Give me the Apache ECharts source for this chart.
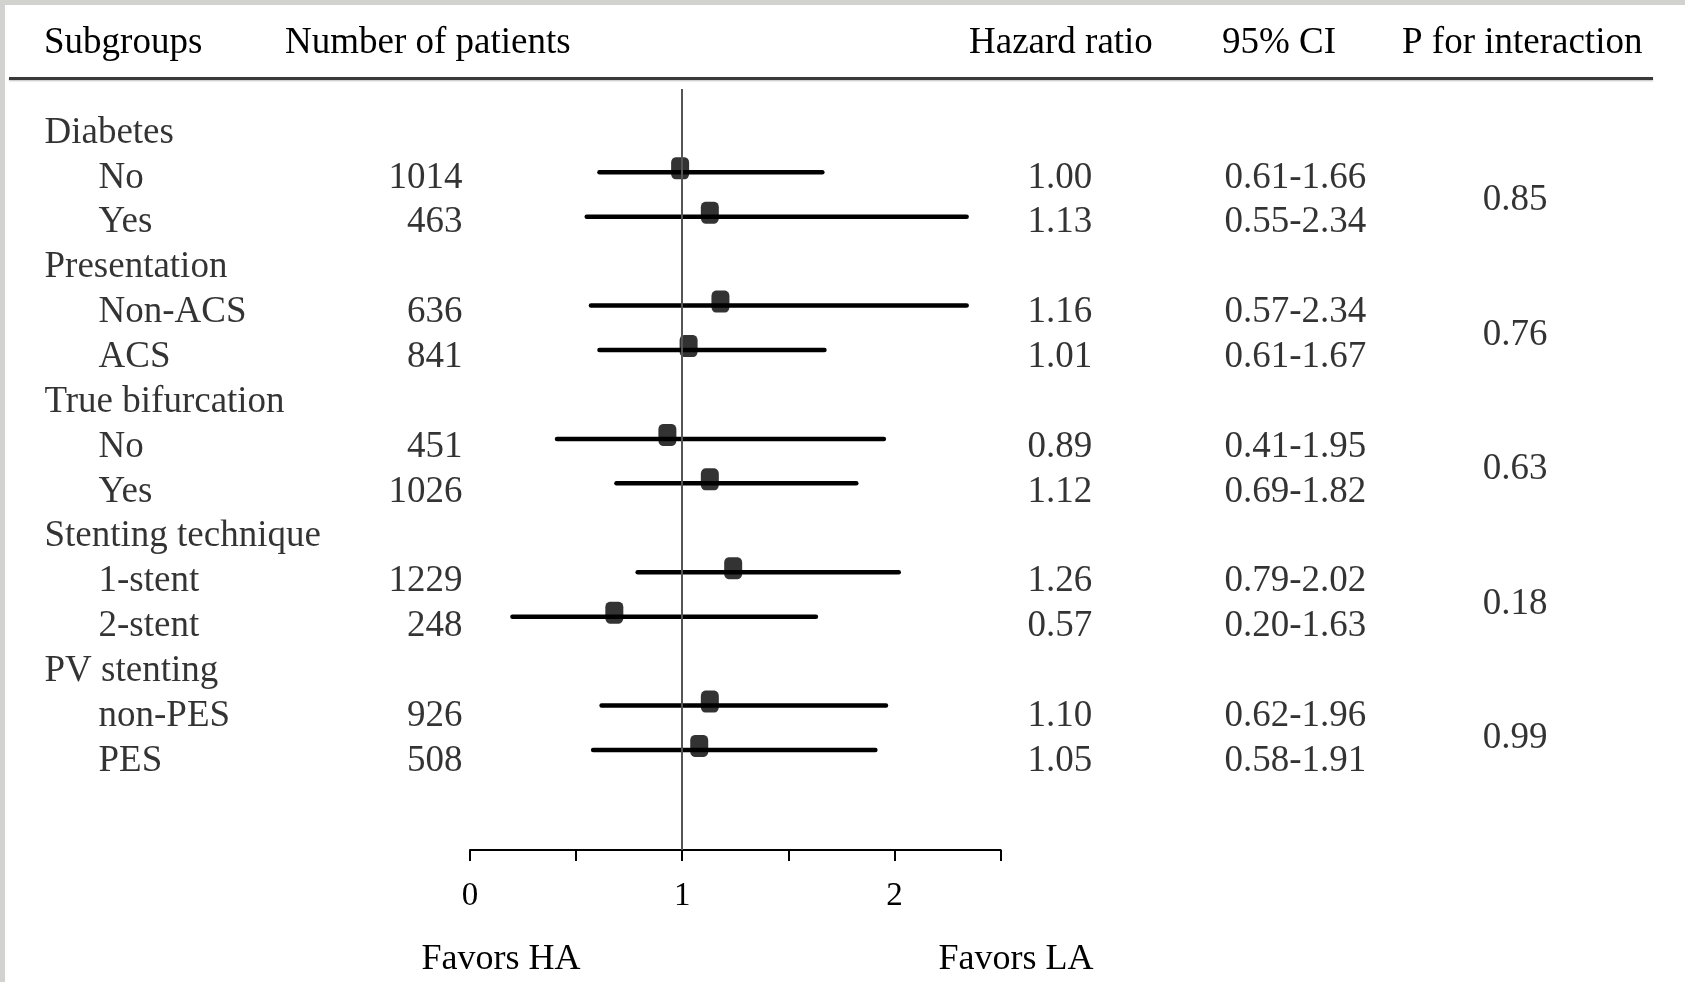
<!DOCTYPE html>
<html>
<head>
<meta charset="utf-8">
<script src="https://cdn.jsdelivr.net/npm/echarts@6/dist/echarts.min.js"></script>
<style>
html,body{margin:0;padding:0;background:#fff;}
#chart{width:1685px;height:982px;}
</style>
</head>
<body>
<div id="chart"></div>
<script>
// ---------------- data ----------------
const headers = ['Subgroups', 'Number of patients', 'Hazard ratio', '95% CI', 'P for interaction'];
const groupNames = ['Diabetes', 'Presentation', 'True bifurcation', 'Stenting technique', 'PV stenting'];
const subLabels = ['No', 'Yes', 'Non-ACS', 'ACS', 'No', 'Yes', '1-stent', '2-stent', 'non-PES', 'PES'];
const patients = [1014, 463, 636, 841, 451, 1026, 1229, 248, 926, 508];
const hrText = ['1.00', '1.13', '1.16', '1.01', '0.89', '1.12', '1.26', '0.57', '1.10', '1.05'];
const ciLow = [0.61, 0.55, 0.57, 0.61, 0.41, 0.69, 0.79, 0.20, 0.62, 0.58];
const ciHigh = [1.66, 2.34, 2.34, 1.67, 1.95, 1.82, 2.02, 1.63, 1.96, 1.91];
// square positions as drawn in the figure
const markerPos = [0.99, 1.13, 1.18, 1.03, 0.93, 1.13, 1.24, 0.68, 1.13, 1.08];
const pInteraction = ['0.85', '0.76', '0.63', '0.18', '0.99'];
const favorLabels = ['Favors HA', 'Favors LA'];
const xTickValues = [0, 1, 2];

// ---------------- layout ----------------
const FONT = '"Liberation Serif", "Times New Roman", serif';
const FS = 37;
const COL = { group: 44, sub: 98, n: 463, hr: 1027, ci: 1224, p: 1515 };
const HEAD_X = [44, 285, 969, 1222, 1402];

// row indices built from structure
const groupRow = groupNames.map((_, g) => 3 * g);
const subRow = subLabels.map((_, i) => 3 * Math.floor(i / 2) + 1 + (i % 2));
const pRow = pInteraction.map((_, g) => (subRow[2 * g] + subRow[2 * g + 1]) / 2);

const baseLabel = { show: true, color: '#000', fontFamily: FONT, fontSize: FS, distance: 0 };
function textSeries(points, position) {
  return {
    type: 'scatter', xAxisIndex: 1, yAxisIndex: 1, silent: true,
    symbolSize: 1, itemStyle: { color: 'transparent' },
    label: Object.assign({}, baseLabel, { position: position, formatter: p => p.data[2] }),
    data: points
  };
}

const chart = echarts.init(document.getElementById('chart'), null, { renderer: 'canvas' });
const option = {
  backgroundColor: '#fff',
  animation: false,
  grid: [
    { left: 470, right: 684.4, top: 89, bottom: 132 },
    { left: 0, right: 0, top: 0, bottom: 0 }
  ],
  xAxis: [
    {
      type: 'value', gridIndex: 0, min: 0, max: 2.5, interval: 0.5,
      axisLine: { show: true, onZero: false, lineStyle: { color: '#000', width: 2 } },
      axisTick: { show: true, length: 11, lineStyle: { color: '#000', width: 2 } },
      splitLine: { show: false },
      axisLabel: {
        color: '#000', fontFamily: FONT, fontSize: 33, margin: 30,
        formatter: v => (xTickValues.indexOf(v) >= 0 ? String(v) : '')
      }
    },
    { type: 'value', gridIndex: 1, min: 0, max: 1685, show: false }
  ],
  yAxis: [
    { type: 'value', gridIndex: 0, inverse: true, min: -0.873, max: 16.251, show: false },
    { type: 'value', gridIndex: 1, inverse: true, min: -2.965, max: 18.926, show: false }
  ],
  series: [
    {
      type: 'custom', xAxisIndex: 0, yAxisIndex: 0, silent: true,
      encode: { x: [0, 1], y: 2 },
      renderItem: function (params, api) {
        const y = api.value(2);
        const a = api.coord([api.value(0), y]);
        const b = api.coord([api.value(1), y]);
        return {
          type: 'line',
          shape: { x1: a[0], y1: a[1], x2: b[0], y2: b[1] },
          style: { stroke: '#000', lineWidth: 4.5, lineCap: 'round' }
        };
      },
      data: ciLow.map((lo, i) => [lo, ciHigh[i], subRow[i]]),
      z: 2
    },
    {
      type: 'scatter', xAxisIndex: 0, yAxisIndex: 0, silent: true,
      symbol: 'roundRect', symbolSize: [18, 22], symbolOffset: [0, -4],
      itemStyle: { color: '#000' },
      data: markerPos.map((v, i) => [v, subRow[i]]),
      z: 3,
      markLine: {
        silent: true, symbol: 'none', label: { show: false },
        lineStyle: { color: '#555', width: 2, type: 'solid' },
        data: [{ xAxis: 1 }]
      }
    },
    textSeries(groupNames.map((t, g) => [COL.group, groupRow[g], t]), 'right'),
    textSeries(subLabels.map((t, i) => [COL.sub, subRow[i], t]), 'right'),
    textSeries(patients.map((n, i) => [COL.n, subRow[i], String(n)]), 'left'),
    textSeries(hrText.map((t, i) => [COL.hr, subRow[i], t]), 'right'),
    textSeries(ciLow.map((lo, i) => [COL.ci, subRow[i], lo.toFixed(2) + '-' + ciHigh[i].toFixed(2)]), 'right'),
    textSeries(pInteraction.map((t, g) => [COL.p, pRow[g], t]), 'inside')
  ],
  graphic: [
    { type: 'rect', shape: { x: 0, y: 0, width: 1685, height: 5 }, style: { fill: '#d2d2ce' }, silent: true },
    { type: 'rect', shape: { x: 0, y: 0, width: 5, height: 982 }, style: { fill: '#d2d2ce' }, silent: true },
    {
      type: 'line', shape: { x1: 9, y1: 78.5, x2: 1653, y2: 78.5 }, silent: true,
      style: { stroke: '#3a3a3a', lineWidth: 3, shadowColor: 'rgba(0,0,0,0.25)', shadowBlur: 2, shadowOffsetY: 1 }
    }
  ].concat(headers.map((h, i) => ({
    type: 'text', x: HEAD_X[i], y: 43, silent: true,
    style: { text: h, font: FS + 'px ' + FONT, fill: '#000', textAlign: 'left', textVerticalAlign: 'middle' }
  }))).concat(favorLabels.map((t, i) => ({
    type: 'text', x: [501, 1016][i], y: 960, silent: true,
    style: { text: t, font: '36px ' + FONT, fill: '#000', textAlign: 'center', textVerticalAlign: 'middle' }
  })))
};
chart.setOption(option);
</script>
</body>
</html>
